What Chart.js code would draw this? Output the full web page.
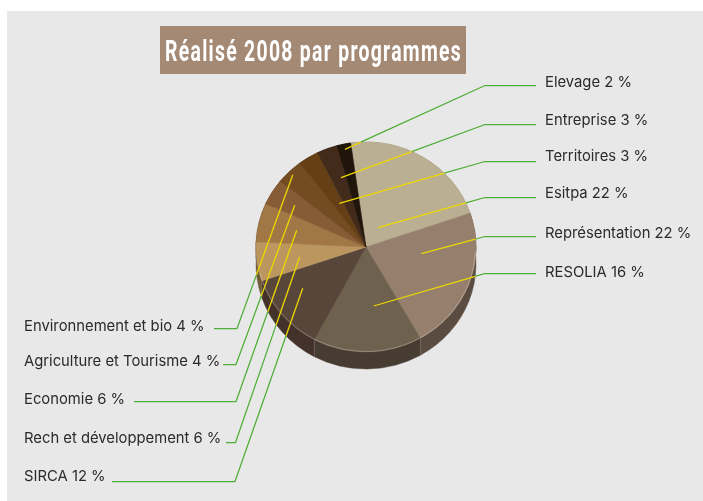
<!DOCTYPE html>
<html lang="fr"><head><meta charset="utf-8">
<style>
html,body{margin:0;padding:0;background:#fff;overflow:hidden}
#wrap{position:absolute;left:0;top:0;width:703px;height:501px}
canvas{display:block}
</style>
<script src="https://cdn.jsdelivr.net/npm/chart.js@4"></script>
</head><body>
<div id="wrap"><canvas id="c" width="703" height="501"></canvas></div>
<script>
const titleText = 'Réalisé 2008 par programmes';
const categories = ['Esitpa','Représentation','RESOLIA','SIRCA','Rech et développement','Economie','Agriculture et Tourisme','Environnement et bio','Territoires','Entreprise','Elevage'];
const values = [22,22,16,12,6,6,4,4,3,3,2];
const sliceColors = ['#bbaf93','#96806d','#6e614e','#59463a','#bb965f','#a07745','#875b35','#734c24','#653f15','#432b1b','#20150b'];
const sideColors = ['#8d8370','#5b4c41','#473c31','#43322a','#6e5a36','#5a4428','#4c321c','#402a12','#38220a','#26170d','#120b05'];

// Callout layout, in category order: text position, then leader start, elbow, end.
const textPos = [[545,198],[545,238],[545,277],[24,481],[24,443],[24,404],[24,366],[24,331],[545,161],[545,125],[545,87]];
const leaderStart = [[378,227.7],[421.3,253.7],[373.7,306],[302.7,288.3],[299.7,256.7],[296.7,230.3],[294.7,205.3],[292.7,175],[339.3,203.3],[341,177.7],[345,149.3]];
const leaderElbow = [[485,197.5],[485,236.5],[485,273.5],[235,481.5],[235.5,442.5],[236,401.5],[236,364.5],[237,328.5],[485,161.5],[485,124.5],[485,85.5]];
const leaderEnd = [[536,197.5],[536,236.5],[536,273.5],[112,481.5],[226,442.5],[134,401.5],[223,364.5],[214,328.5],[536,161.5],[536,124.5],[536,85.5]];

const yScale = 105/110, wallDepth = 17;

function leaderSplit(s,e,a){
  const cx=a.x, cy=a.y, r=a.outerRadius, ry=r*yScale;
  let lo=0, hi=1;
  for(let i=0;i<30;i++){
    const m=(lo+hi)/2, px=s[0]+(e[0]-s[0])*m, py=s[1]+(e[1]-s[1])*m;
    const d=((px-cx)/r)**2+((py-cy-(py>cy?wallDepth:0))/ry)**2;
    if(d<1) lo=m; else hi=m;
  }
  return [s[0]+(e[0]-s[0])*lo, s[1]+(e[1]-s[1])*lo];
}

const scene = {
  id:'scene',
  beforeDraw(chart){
    const x = chart.ctx;
    x.save();
    x.fillStyle='#fff'; x.fillRect(0,0,703,501);
    x.fillStyle='#e8e8e8'; x.fillRect(7,11,696,490);
    x.fillStyle='#a48975'; x.fillRect(160,26,306,48);
    // title, condensed to the reference width
    x.fillStyle='#fff';
    x.font='bold 30px Roboto, sans-serif';
    x.letterSpacing='2px';
    x.textAlign='left'; x.textBaseline='alphabetic';
    const w = x.measureText(titleText).width;
    x.translate(165,60.5); x.scale(297/w,1);
    x.fillText(titleText,0,0);
    x.restore();
  },
  beforeDatasetsDraw(chart){
    const x = chart.ctx, arcs = chart.getDatasetMeta(0).data;
    const cx = arcs[0].x, cy = arcs[0].y, r = arcs[0].outerRadius;
    const depth = wallDepth/yScale;
    x.save();
    x.translate(cx,cy); x.scale(1,yScale); x.translate(-cx,-cy);
    arcs.forEach((a,i)=>{
      x.fillStyle = sideColors[i];
      x.strokeStyle = sideColors[i];
      x.lineWidth = .5;
      x.beginPath();
      x.arc(cx,cy,r,a.startAngle,a.endAngle);
      x.arc(cx,cy+depth,r,a.endAngle,a.startAngle,true);
      x.closePath();
      x.fill(); x.stroke();
    });
    // pale seams on the visible wall
    x.strokeStyle='rgba(255,255,255,.16)';
    x.lineWidth=1;
    arcs.forEach(a=>{
      const t=a.startAngle, dx=Math.cos(t)*r, dy=Math.sin(t)*r;
      if(dy>0){ x.beginPath(); x.moveTo(cx+dx,cy+dy); x.lineTo(cx+dx,cy+dy+depth); x.stroke(); }
    });
    x.restore();
    x.save();
    x.translate(cx,cy); x.scale(1,yScale); x.translate(-cx,-cy);
  },
  afterDatasetsDraw(chart){
    const x = chart.ctx, a0 = chart.getDatasetMeta(0).data[0];
    x.restore();
    x.save();
    // pale rim on the front of the top face
    x.translate(a0.x,a0.y); x.scale(1,yScale);
    x.strokeStyle='rgba(255,255,255,.25)'; x.lineWidth=1;
    x.beginPath(); x.arc(0,0,a0.outerRadius-.5,0.05,Math.PI-0.25); x.stroke();
    x.restore();
    x.save();
    x.lineJoin='round';
    categories.forEach((name,i)=>{
      const s=leaderStart[i], e=leaderElbow[i], t=leaderEnd[i];
      const k = leaderSplit(s,e,a0);
      x.lineWidth=1.25; x.strokeStyle='#4fae35';
      x.beginPath(); x.moveTo(k[0],k[1]); x.lineTo(e[0],e[1]); x.lineTo(t[0],t[1]); x.stroke();
      x.lineWidth=1.3; x.strokeStyle='#ecd800';
      x.beginPath(); x.moveTo(s[0],s[1]); x.lineTo(k[0],k[1]); x.stroke();
    });
    x.fillStyle='#2b2b2b';
    x.font='14.8px Inter, Lato, sans-serif';
    x.textAlign='left'; x.textBaseline='alphabetic';
    categories.forEach((name,i)=>{ x.fillText(name+' '+values[i]+' %', textPos[i][0], textPos[i][1]); });
    x.restore();
  }
};

new Chart(document.getElementById('c'),{
  type:'pie',
  plugins:[scene],
  data:{labels:categories,datasets:[{data:values,backgroundColor:sliceColors,borderColor:sliceColors,borderWidth:.6,radius:110}]},
  options:{
    responsive:false,animation:false,
    rotation:-8,
    layout:{padding:{left:29,right:0,top:0,bottom:7}},
    plugins:{legend:{display:false},tooltip:{enabled:false},title:{display:false}}
  }
});
</script>
</body></html>
